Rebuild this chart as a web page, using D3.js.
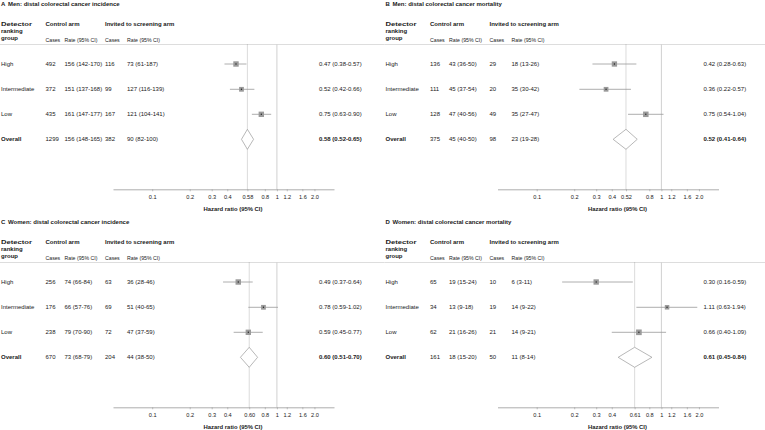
<!DOCTYPE html>
<html><head><meta charset="utf-8">
<script src="https://cdn.jsdelivr.net/npm/d3@7"></script>
<style>
html,body{margin:0;padding:0;background:#fff;}
svg text{font-family:"Liberation Sans",Arial,Helvetica,sans-serif;fill:#1a1a1a;}
</style></head>
<body><svg id="chart" width="765" height="430"></svg>
<script>
const panelLetters = ["A","B","C","D"];
const panelTitles = ["Men: distal colorectal cancer incidence","Men: distal colorectal cancer mortality","Women: distal colorectal cancer incidence","Women: distal colorectal cancer mortality"];
const groups = ["High","Intermediate","Low","Overall"];
const controlCases = [[492,372,435,1299],[136,111,128,375],[256,176,238,670],[65,34,62,161]];
const controlRates = [
 ["156 (142-170)","151 (137-168)","161 (147-177)","156 (148-165)"],
 ["43 (36-50)","45 (37-54)","47 (40-56)","45 (40-50)"],
 ["74 (66-84)","66 (57-76)","79 (70-90)","73 (68-79)"],
 ["19 (15-24)","13 (9-18)","21 (16-26)","18 (15-20)"]];
const screenCases = [[116,99,167,382],[29,20,49,98],[63,69,72,204],[10,19,21,50]];
const screenRates = [
 ["73 (61-187)","127 (116-139)","121 (104-141)","90 (82-100)"],
 ["18 (13-26)","35 (30-42)","35 (27-47)","23 (19-28)"],
 ["36 (28-46)","51 (40-65)","47 (37-59)","44 (38-50)"],
 ["6 (3-11)","14 (9-22)","14 (9-21)","11 (8-14)"]];
const hr = [[0.47,0.52,0.75,0.58],[0.42,0.36,0.75,0.52],[0.49,0.78,0.59,0.60],[0.30,1.11,0.66,0.61]];
const hrLow = [[0.38,0.42,0.63,0.52],[0.28,0.22,0.54,0.41],[0.37,0.59,0.45,0.51],[0.16,0.63,0.40,0.45]];
const hrHigh = [[0.57,0.66,0.90,0.65],[0.63,0.57,1.04,0.64],[0.64,1.02,0.77,0.70],[0.59,1.94,1.09,0.84]];
const baseTicks = [0.1,0.2,0.3,0.4,0.8,1,1.2,1.6,2.0];
const tickLabels = {0.1:"0.1",0.2:"0.2",0.3:"0.3",0.4:"0.4",0.8:"0.8",1:"1",1.2:"1.2",1.6:"1.6",2.0:"2.0"};
const axisDomain = [0.0485, 2.87];
const axisTitle = "Hazard ratio (95%  CI)";

const svg = d3.select("#chart");
const f2 = d3.format(".2f");
const offsets = [[0,0],[384.5,0],[0,218],[384.5,218]];
const rowY = [64,89.3,114.3,139.3];
const cols = {label:1, cc:45.5, cr:64.5, sc:105, sr:127, hrText:319};

panelLetters.forEach((L,p)=>{
  const g = svg.append("g").attr("transform",`translate(${offsets[p][0]},${offsets[p][1]})`);
  const x = d3.scaleLog().domain(axisDomain).range([113,334]);
  const yAxis = 189.3, ySep = 44.5;

  // title
  const t = g.append("text").attr("y",6.2).attr("font-size",6).attr("font-weight","bold");
  t.append("tspan").attr("x",1).text(L);
  t.append("tspan").attr("x",8).text(panelTitles[p]);

  // headers
  const hb = [["Detector",cols.label,26],["ranking",cols.label,33],["group",cols.label,40.3],
              ["Control arm",cols.cc,26],["Invited to screening arm",cols.sc,26]];
  hb.forEach(h=>{
    const tx = g.append("text").attr("x",h[1]).attr("y",h[2]).attr("font-size",6).attr("font-weight","bold").text(h[0]);
    if(h[0]==="Detector") tx.attr("textLength",31).attr("lengthAdjust","spacingAndGlyphs");
  });
  [["Cases",cols.cc],["Rate (95% CI)",cols.cr],["Cases",cols.sc],["Rate (95% CI)",cols.sr]].forEach(h=>
    g.append("text").attr("x",h[1]).attr("y",41.6).attr("font-size",5.2).attr("fill","#333").text(h[0]));

  // separator
  g.append("line").attr("x1",0).attr("x2",384.5).attr("y1",ySep).attr("y2",ySep).attr("stroke","#ddd").attr("stroke-width",1);

  // reference lines
  g.append("line").attr("x1",x(1)).attr("x2",x(1)).attr("y1",ySep).attr("y2",yAxis).attr("stroke","#c4c4c4").attr("stroke-width",0.8);
  const ov = hr[p][3];
  g.append("line").attr("x1",x(ov)).attr("x2",x(ov)).attr("y1",ySep).attr("y2",yAxis).attr("stroke","#888").attr("stroke-width",0.6).attr("stroke-dasharray","1,1");

  // axis
  const ticks = baseTicks.concat([ov]).sort((a,b)=>a-b);
  const axis = d3.axisBottom(x).tickValues(ticks).tickSize(2).tickSizeOuter(0)
     .tickFormat(d=> d===ov ? f2(ov) : tickLabels[d]);
  const ax = g.append("g").attr("transform",`translate(0,${yAxis})`).call(axis);
  ax.select(".domain").attr("stroke","#999").attr("stroke-width",0.8);
  ax.selectAll(".tick line").attr("stroke","#999").attr("stroke-width",0.6);
  ax.selectAll(".tick text").attr("font-size",5.6).attr("fill","#222").attr("y",5.5)
     .attr("font-family","Liberation Sans, Arial, sans-serif");
  g.append("text").attr("x",233).attr("y",210.6).attr("text-anchor","middle")
     .attr("font-size",5.9).attr("font-weight","bold").text(axisTitle);

  const totalCases = d3.sum([0,1,2],i=>controlCases[p][i]+screenCases[p][i]);
  groups.forEach((gr,i)=>{
    const y = rowY[i];
    const bold = gr==="Overall";
    g.append("text").attr("x",cols.label).attr("y",y+2).attr("font-size",6).attr("font-weight",bold?"bold":"normal").text(gr);
    g.append("text").attr("x",cols.cc).attr("y",y+2).attr("font-size",6).text(controlCases[p][i]);
    g.append("text").attr("x",cols.cr).attr("y",y+2).attr("font-size",6).text(controlRates[p][i]);
    g.append("text").attr("x",cols.sc).attr("y",y+2).attr("font-size",6).text(screenCases[p][i]);
    g.append("text").attr("x",cols.sr).attr("y",y+2).attr("font-size",6).text(screenRates[p][i]);
    g.append("text").attr("x",cols.hrText).attr("y",y+2).attr("font-size",6).attr("font-weight",bold?"bold":"normal")
      .text(`${f2(hr[p][i])} (${f2(hrLow[p][i])}-${f2(hrHigh[p][i])})`);

    if(!bold){
      g.append("line").attr("x1",x(hrLow[p][i])).attr("x2",x(hrHigh[p][i])).attr("y1",y).attr("y2",y)
        .attr("stroke","#999").attr("stroke-width",0.8);
      const s = 9*Math.sqrt((controlCases[p][i]+screenCases[p][i])/totalCases);
      g.append("rect").attr("x",x(hr[p][i])-s/2).attr("y",y-s/2).attr("width",s).attr("height",s)
        .attr("fill","#9a9a9a");
      g.append("circle").attr("cx",x(hr[p][i])).attr("cy",y).attr("r",0.7).attr("fill","#222");
    } else {
      const pts = [[x(hrLow[p][i]),y],[x(hr[p][i]),y-10],[x(hrHigh[p][i]),y],[x(hr[p][i]),y+10]];
      g.append("path").attr("d",d3.line()(pts)+"Z").attr("fill","#fff").attr("stroke","#999").attr("stroke-width",0.7);
    }
  });
});
</script></body></html>
